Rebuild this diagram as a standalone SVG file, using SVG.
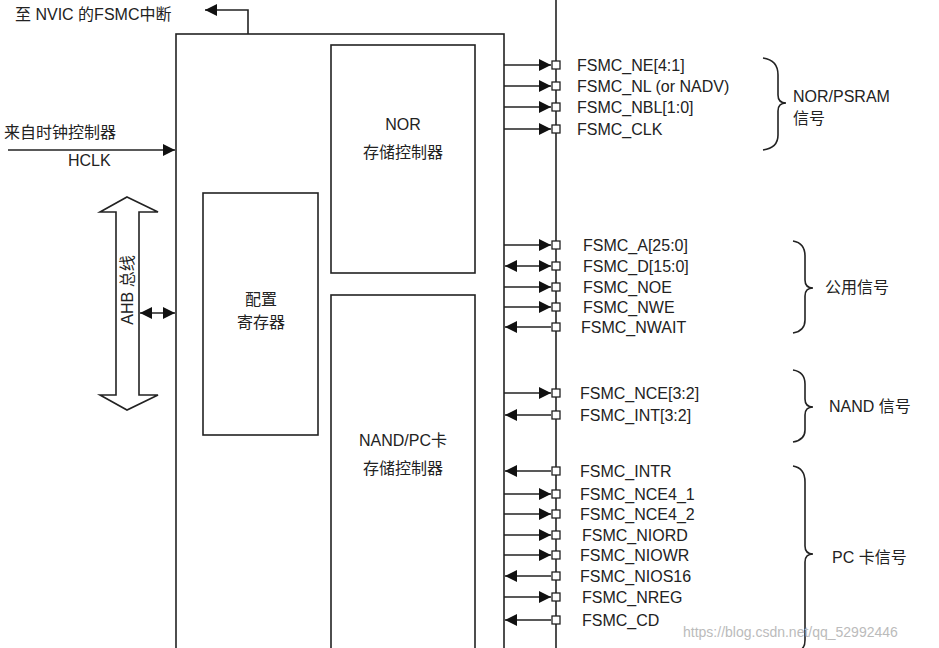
<svg xmlns="http://www.w3.org/2000/svg" width="939" height="648" viewBox="0 0 939 648">
<style>
text{font-family:"Liberation Sans","Noto Sans CJK SC",sans-serif;font-size:16px;fill:#222}
.b{fill:#fff;stroke:#222;stroke-width:1.6}
.l{stroke:#222;stroke-width:1.6;fill:none}
.sq{fill:#fff;stroke:#222;stroke-width:1.3}
</style>
<defs>
<marker id="ah" viewBox="0 0 10 10" refX="10" refY="5" markerWidth="12" markerHeight="12" markerUnits="userSpaceOnUse" orient="auto-start-reverse"><path d="M0,0L10,5L0,10z" fill="#111"/></marker>
</defs>
<rect width="939" height="648" fill="#fff"/>
<g id="fsmc"><rect class="b" x="176" y="34" width="328" height="620"/></g>
<g id="nor"><rect class="b" x="331" y="45" width="144" height="228"/><text x="403" y="130" text-anchor="middle">NOR</text><text x="403" y="158" text-anchor="middle">存储控制器</text></g>
<g id="nand"><rect class="b" x="331" y="295" width="144" height="360"/><text x="403" y="446" text-anchor="middle">NAND/PC卡</text><text x="403" y="474" text-anchor="middle">存储控制器</text></g>
<g id="cfg"><rect class="b" x="203" y="193" width="115" height="242"/><text x="261" y="305" text-anchor="middle">配置</text><text x="261" y="328" text-anchor="middle">寄存器</text></g>
<g id="ahb"><path class="b" d="M127,197L158,212L139,212L139,395L158,395L127,410L100,395L116,395L116,212L100,212z"/><text transform="translate(133,290) rotate(-90)" text-anchor="middle">AHB 总线</text></g>
<g id="labels-left">
<text x="15" y="20">至 NVIC 的FSMC中断</text>
<text x="4" y="138">来自时钟控制器</text>
<text x="68" y="166">HCLK</text>
</g>
<g id="connectors">
<line class="l" x1="556" y1="0" x2="556" y2="648"/>
<polyline class="l" points="248,34 248,10 205,10" marker-end="url(#ah)"/>
<line class="l" x1="8" y1="150" x2="175" y2="150" marker-end="url(#ah)"/>
<line class="l" x1="140" y1="313" x2="175" y2="313" marker-start="url(#ah)" marker-end="url(#ah)"/>
<g id="out">
<line class="l" x1="504" y1="65" x2="551" y2="65" marker-end="url(#ah)"/>
<line class="l" x1="504" y1="86" x2="551" y2="86" marker-end="url(#ah)"/>
<line class="l" x1="504" y1="107" x2="551" y2="107" marker-end="url(#ah)"/>
<line class="l" x1="504" y1="129" x2="551" y2="129" marker-end="url(#ah)"/>
<line class="l" x1="504" y1="245" x2="551" y2="245" marker-end="url(#ah)"/>
<line class="l" x1="505" y1="266" x2="551" y2="266" marker-start="url(#ah)" marker-end="url(#ah)"/>
<line class="l" x1="504" y1="287" x2="551" y2="287" marker-end="url(#ah)"/>
<line class="l" x1="504" y1="307" x2="551" y2="307" marker-end="url(#ah)"/>
<line class="l" x1="505" y1="327" x2="551" y2="327" marker-start="url(#ah)"/>
<line class="l" x1="504" y1="393" x2="551" y2="393" marker-end="url(#ah)"/>
<line class="l" x1="505" y1="415" x2="551" y2="415" marker-start="url(#ah)"/>
<line class="l" x1="505" y1="471" x2="551" y2="471" marker-start="url(#ah)"/>
<line class="l" x1="504" y1="494" x2="551" y2="494" marker-end="url(#ah)"/>
<line class="l" x1="504" y1="514" x2="551" y2="514" marker-end="url(#ah)"/>
<line class="l" x1="504" y1="535" x2="551" y2="535" marker-end="url(#ah)"/>
<line class="l" x1="504" y1="555" x2="551" y2="555" marker-end="url(#ah)"/>
<line class="l" x1="505" y1="576" x2="551" y2="576" marker-start="url(#ah)"/>
<line class="l" x1="504" y1="597" x2="551" y2="597" marker-end="url(#ah)"/>
<line class="l" x1="505" y1="620" x2="551" y2="620" marker-start="url(#ah)"/>
</g>
<g id="pins">
<rect class="sq" x="552" y="61" width="8" height="8"/><rect class="sq" x="552" y="82" width="8" height="8"/><rect class="sq" x="552" y="103" width="8" height="8"/><rect class="sq" x="552" y="125" width="8" height="8"/>
<rect class="sq" x="552" y="241" width="8" height="8"/><rect class="sq" x="552" y="262" width="8" height="8"/><rect class="sq" x="552" y="283" width="8" height="8"/><rect class="sq" x="552" y="303" width="8" height="8"/><rect class="sq" x="552" y="323" width="8" height="8"/>
<rect class="sq" x="552" y="389" width="8" height="8"/><rect class="sq" x="552" y="411" width="8" height="8"/>
<rect class="sq" x="552" y="467" width="8" height="8"/><rect class="sq" x="552" y="490" width="8" height="8"/><rect class="sq" x="552" y="510" width="8" height="8"/><rect class="sq" x="552" y="531" width="8" height="8"/><rect class="sq" x="552" y="551" width="8" height="8"/><rect class="sq" x="552" y="572" width="8" height="8"/><rect class="sq" x="552" y="593" width="8" height="8"/><rect class="sq" x="552" y="616" width="8" height="8"/>
</g>
<path class="l" d="M763,58Q778,60 778,75L778,95Q778,103 786,103Q778,103 778,111L778,135Q778,148 763,150"/>
<path class="l" d="M793,241Q805,243 805,256L805,280Q805,288 813,288Q805,288 805,296L805,320Q805,331 793,333"/>
<path class="l" d="M793,370Q805,372 805,384L805,399Q805,407 813,407Q805,407 805,415L805,430Q805,440 793,442"/>
<path class="l" d="M793,466Q805,468 805,482L805,546Q805,554 813,554Q805,554 805,562L805,640Q805,648 800,650"/>
</g>
<g id="signals">
<text x="577" y="71">FSMC_NE[4:1]</text>
<text x="577" y="92">FSMC_NL (or NADV)</text>
<text x="577" y="113">FSMC_NBL[1:0]</text>
<text x="577" y="135">FSMC_CLK</text>
<text x="583" y="251">FSMC_A[25:0]</text>
<text x="583" y="272">FSMC_D[15:0]</text>
<text x="583" y="293">FSMC_NOE</text>
<text x="583" y="313">FSMC_NWE</text>
<text x="581" y="333">FSMC_NWAIT</text>
<text x="580" y="399">FSMC_NCE[3:2]</text>
<text x="580" y="421">FSMC_INT[3:2]</text>
<text x="580" y="477">FSMC_INTR</text>
<text x="580" y="500">FSMC_NCE4_1</text>
<text x="580" y="520">FSMC_NCE4_2</text>
<text x="582" y="541">FSMC_NIORD</text>
<text x="580" y="561">FSMC_NIOWR</text>
<text x="580" y="582">FSMC_NIOS16</text>
<text x="582" y="603">FSMC_NREG</text>
<text x="582" y="626">FSMC_CD</text>
</g>
<g id="groups">
<text x="793" y="102">NOR/PSRAM</text><text x="793" y="124">信号</text>
<text x="825" y="293">公用信号</text>
<text x="829" y="412">NAND 信号</text>
<text x="832" y="563">PC 卡信号</text>
</g>
<text x="683" y="637" style="fill:#bbb;font-size:14px">https://blog.csdn.net/qq_52992446</text>
</svg>
